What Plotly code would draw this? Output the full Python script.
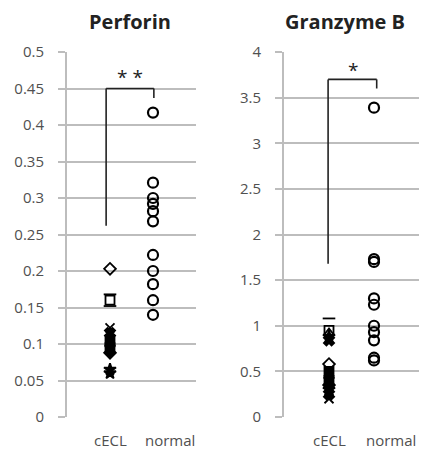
import plotly.graph_objects as go

categories = ["cECL", "normal"]

perforin_cecl = [0.203, 0.168, 0.160, 0.152, 0.122, 0.115, 0.105, 0.100, 0.095, 0.088, 0.065, 0.060]
perforin_cecl_sym = ["diamond-open", "line-ew-open", "square-open", "line-ew-open", "x-thin-open", "x",
                     "square", "triangle-up", "square", "diamond", "star", "star"]
perforin_normal = [0.417, 0.321, 0.300, 0.292, 0.282, 0.268, 0.222, 0.200, 0.182, 0.160, 0.140]

gzb_cecl = [1.08, 0.95, 0.92, 0.88, 0.84, 0.58, 0.50, 0.45, 0.40, 0.35, 0.30, 0.25, 0.20]
gzb_cecl_sym = ["line-ew-open", "square-open", "triangle-up-open", "star", "x", "diamond-open",
                "square", "triangle-up", "square", "diamond", "star", "x", "x-thin-open"]
gzb_normal = [3.39, 1.73, 1.70, 1.30, 1.23, 1.00, 0.93, 0.84, 0.65, 0.62]

titles = ["Perforin", "Granzyme B"]
sig = ["* *", "*"]

fig = go.Figure()
grid = "#bdbdbd"
tickc = "#505050"
font = "Open Sans"

def add_panel(xa, ya, cecl, sym, normal):
    fig.add_trace(go.Scatter(x=[0] * len(cecl), y=cecl, mode="markers", xaxis=xa, yaxis=ya,
                             marker=dict(symbol=sym, size=9, color="black",
                                         line=dict(color="black", width=1.8)),
                             showlegend=False))
    fig.add_trace(go.Scatter(x=[1] * len(normal), y=normal, mode="markers", xaxis=xa, yaxis=ya,
                             marker=dict(symbol="circle-open", size=10, color="black",
                                         line=dict(color="black", width=2.2)),
                             showlegend=False))

add_panel("x", "y", perforin_cecl, perforin_cecl_sym, perforin_normal)
add_panel("x2", "y2", gzb_cecl, gzb_cecl_sym, gzb_normal)

ydom = [35 / 452, 400 / 452]
xcommon = dict(range=[-1, 2], showticklabels=False, showgrid=False, zeroline=False,
               showline=False, ticks="", automargin=False, fixedrange=True)
ycommon = dict(showgrid=True, gridcolor=grid, gridwidth=2, zeroline=False, showline=True,
               linecolor=grid, linewidth=2, ticks="outside", ticklen=7, tickcolor=grid, tickwidth=2,
               tickfont=dict(family=font, size=15, color=tickc), domain=ydom, ticklabelstandoff=11,
               automargin=False)

fig.update_layout(
    width=422, height=452, margin=dict(l=0, r=0, t=0, b=0, autoexpand=False),
    paper_bgcolor="white", plot_bgcolor="white",
    xaxis=dict(domain=[67 / 422, 196 / 422], anchor="y", **xcommon),
    yaxis=dict(range=[0, 0.5], dtick=0.05, anchor="x", **ycommon),
    xaxis2=dict(domain=[284 / 422, 419 / 422], anchor="y2", **xcommon),
    yaxis2=dict(range=[0, 4], dtick=0.5, anchor="x2", **ycommon),
)

# category labels
for xr in ["x", "x2"]:
    fig.add_annotation(x=0, y=1 - 440 / 452, xref=xr, yref="paper", text=categories[0], showarrow=False,
                       xanchor="center", yanchor="middle", font=dict(family=font, size=15, color=tickc))
    fig.add_annotation(x=1, y=1 - 440 / 452, xref=xr, yref="paper", text=categories[1], showarrow=False,
                       xanchor="left", xshift=-10, yanchor="middle",
                       font=dict(family=font, size=15, color=tickc))

# significance brackets
line = dict(color="#222222", width=1.6)
fig.add_shape(type="line", xref="x", yref="y", x0=-0.09, x1=-0.09, y0=0.262, y1=0.45, line=line)
fig.add_shape(type="line", xref="x", yref="y", x0=-0.09, x1=1.02, y0=0.45, y1=0.45, line=line)
fig.add_shape(type="line", xref="x", yref="y", x0=1.02, x1=1.02, y0=0.45, y1=0.437, line=line)
fig.add_shape(type="line", xref="x2", yref="y2", x0=-0.02, x1=-0.02, y0=1.68, y1=3.7, line=line)
fig.add_shape(type="line", xref="x2", yref="y2", x0=-0.02, x1=1.06, y0=3.7, y1=3.7, line=line)
fig.add_shape(type="line", xref="x2", yref="y2", x0=1.06, x1=1.06, y0=3.7, y1=3.6, line=line)

fig.add_annotation(x=0.47, y=0.466, xref="x", yref="y", text=sig[0], showarrow=False,
                   font=dict(family=font, size=19, color="#222222"))
fig.add_annotation(x=0.53, y=3.8, xref="x2", yref="y2", text=sig[1], showarrow=False,
                   font=dict(family=font, size=19, color="#222222"))

fig.add_annotation(x=130 / 422, y=1 - 21 / 452, xref="paper", yref="paper", xanchor="center",
                   yanchor="middle", text="<b>" + titles[0] + "</b>",
                   showarrow=False, font=dict(family=font, size=20, color="#222222"))
fig.add_annotation(x=345 / 422, y=1 - 21 / 452, xref="paper", yref="paper", xanchor="center",
                   yanchor="middle", text="<b>" + titles[1] + "</b>",
                   showarrow=False, font=dict(family=font, size=20, color="#222222"))

fig.write_html("out.html")
